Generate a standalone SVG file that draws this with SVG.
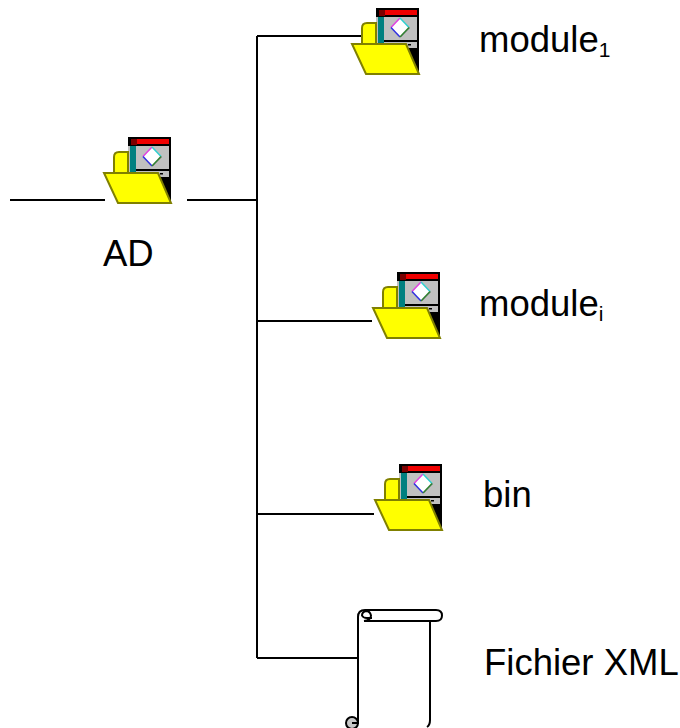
<svg xmlns="http://www.w3.org/2000/svg" width="680" height="728" viewBox="0 0 680 728">
<style>
text{font-family:"Liberation Sans",Arial,sans-serif;font-size:36.500px;fill:#000}
.sub{font-size:21px}
.c{fill:none;stroke:#000;stroke-width:2}
.s{fill:none;stroke:#000;stroke-width:2}
</style>
<defs>
<g id="folder">
<rect x="0" y="0" width="43" height="67" fill="#000"/>
<rect x="0" y="9" width="2" height="30" fill="#c0c0c0"/>
<rect x="3" y="2" width="6" height="6" fill="#7a0000"/>
<rect x="9" y="2" width="32" height="5" fill="#f00000"/>
<rect x="2" y="9" width="6" height="30" fill="#008080"/>
<rect x="8" y="9" width="33" height="23" fill="#c0c0c0"/>
<rect x="8" y="34" width="33" height="6" fill="#c0c0c0"/>
<rect x="32" y="36" width="3" height="1.500" fill="#000"/>
<path d="M25 11 L34 20 L25 29 L16 20Z" fill="#808080"/>
<path d="M24 10 L33 19.500 L24 29 L15 19.500Z" fill="#fff"/>
<path d="M24 10 L15 19.500" stroke="#e040e0" stroke-width="1.500" fill="none"/>
<path d="M24 10 L33 19.500" stroke="#30d0d0" stroke-width="1.500" fill="none"/>
<path d="M15 19.500 L24 29" stroke="#3030e0" stroke-width="1.500" fill="none"/>
<path d="M24 29 L33 19.500" stroke="#308030" stroke-width="1.500" fill="none"/>
<path d="M-14 38 V20 Q-14 15 -9 15 H0 V38Z" fill="#ffff00" stroke="#808000" stroke-width="2"/>
<path d="M-24 36 H30 L43 66 H-10Z" fill="#ffff00" stroke="#808000" stroke-width="2"/>
</g>
</defs>
<g id="connectors">
<path class="c" d="M10 200H105M187 200H257M257 36V658M257 36H363M257 321H372M257 514H374M257 658H358"/>
</g>
<g id="ad"><use href="#folder" x="128" y="137"/><text x="103" y="266">AD</text></g>
<g id="module1"><use href="#folder" x="376" y="8"/><text x="479" y="52">module<tspan class="sub" dy="5">1</tspan></text></g>
<g id="modulei"><use href="#folder" x="397" y="272"/><text x="479" y="316">module<tspan class="sub" dy="5">i</tspan></text></g>
<g id="bin"><use href="#folder" x="399" y="464"/><text x="483" y="507">bin</text></g>
<g id="xml">
<circle cx="352" cy="723" r="6" fill="#c8c8c8" stroke="#000" stroke-width="2"/>
<path d="M352 723h7" stroke="#000" stroke-width="2" fill="none"/>
<path class="s" d="M358 723V617Q358 610 365 610H436Q442 610 442 615.500Q442 621 436 621H364"/>
<path class="s" d="M364 621Q371 620 371 615.500Q370 611 366 611Q362 612 362 615.500Q363 618 367 618H372"/>
<path class="s" d="M430 621V720Q430 725 427 727"/>
<text x="484" y="675">Fichier XML</text>
</g>
</svg>
